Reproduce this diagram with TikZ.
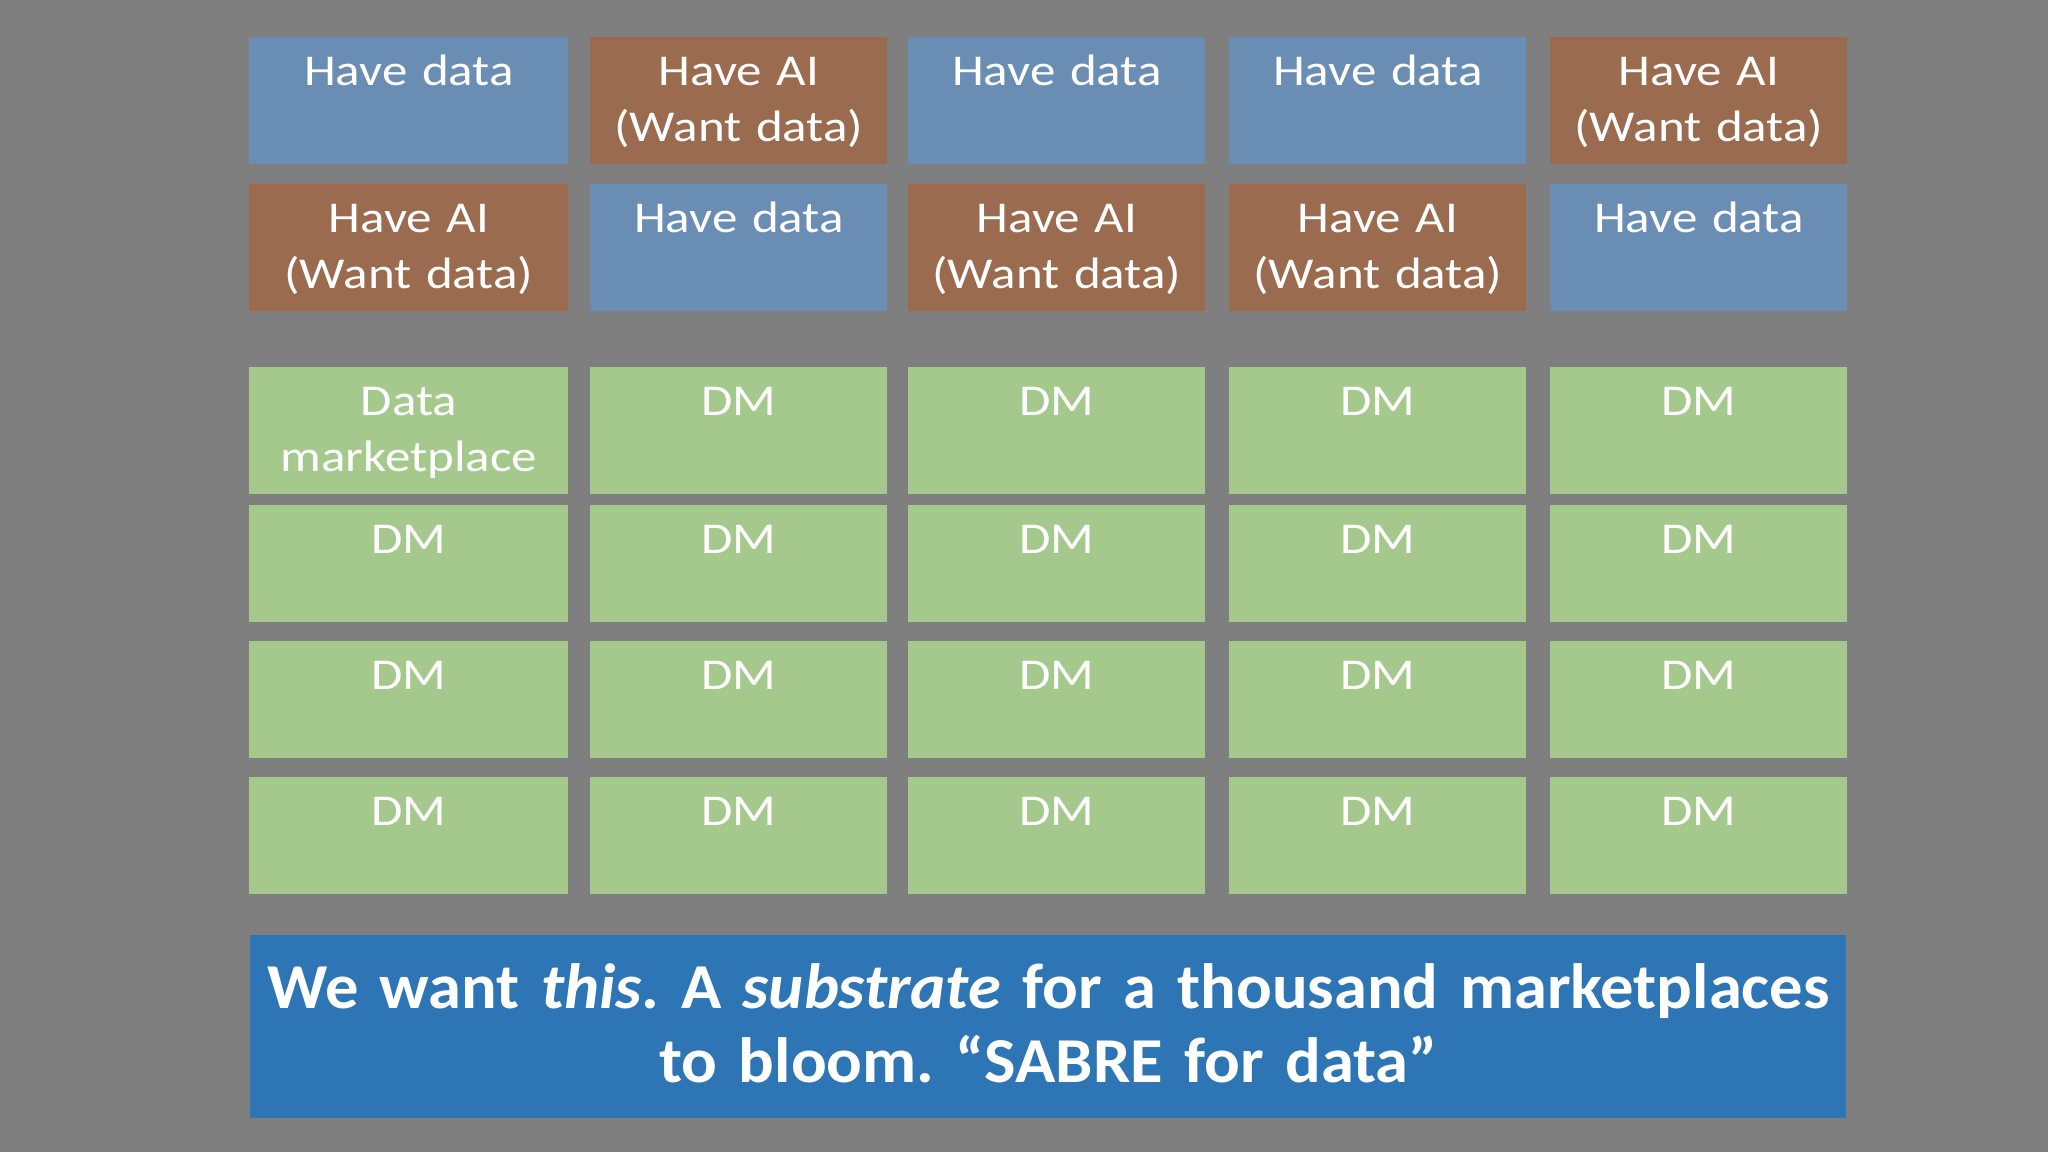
\documentclass[tikz,border=0pt]{standalone}
\usepackage{fontspec}
\setmainfont{Carlito}
\newfontfamily\cellfont[FakeStretch=1.16]{Carlito}
\newfontfamily\bannerfont[FakeStretch=1.04]{Carlito}
\usepackage{xcolor}
\usepackage{tikz}
\definecolor{slidegray}{HTML}{7F7F7F}
\definecolor{datablue}{HTML}{6A8DB4}
\definecolor{aibrown}{HTML}{9B6B50}
\definecolor{dmgreen}{HTML}{A5C98C}
\definecolor{bannerblue}{HTML}{2E75B6}
\tikzset{ cell/.style = {rectangle, inner sep=0pt, anchor=north west, align=center, text=white, font=\cellfont\fontsize{22}{28}\selectfont, text width=148.5pt, text height=23.8pt, text depth=39.7pt} }
\tikzset{ have_data/.style = {cell, fill=datablue} }
\tikzset{ have_ai/.style = {cell, fill=aibrown} }
\tikzset{ dm/.style = {cell, fill=dmgreen, text height=23.9pt, text depth=34.6pt} }
\tikzset{ wide/.style = {text width=159.5pt} }
\tikzset{ banner/.style = {rectangle, inner sep=0pt, anchor=north west, align=center, text=white, fill=bannerblue, text width=798pt, text height=36.5pt, text depth=55pt, font=\bannerfont\fontsize{32}{37}\selectfont\bfseries\frenchspacing} }

\begin{document}
\begin{tikzpicture}[x=0.5pt, y=-0.5pt]
    \fill[slidegray] (0,0) rectangle (2048,1152);
    \useasboundingbox (0,0) rectangle (2048,1152);
    % who has what
    \node[have_data, wide] (H11) at (249, 37) {Have data};
    \node[have_ai] (H12) at (590, 37) {Have AI\\(Want data)};
    \node[have_data] (H13) at (908, 37) {Have data};
    \node[have_data] (H14) at (1229, 37) {Have data};
    \node[have_ai] (H15) at (1550, 37) {Have AI\\(Want data)};
    \node[have_ai, wide] (H21) at (249, 184) {Have AI\\(Want data)};
    \node[have_data] (H22) at (590, 184) {Have data};
    \node[have_ai] (H23) at (908, 184) {Have AI\\(Want data)};
    \node[have_ai] (H24) at (1229, 184) {Have AI\\(Want data)};
    \node[have_data] (H25) at (1550, 184) {Have data};
    % marketplaces
    \node[dm, wide, text depth=39.6pt] (M11) at (249, 367) {Data\\marketplace};
    \node[dm, text depth=39.6pt] (M12) at (590, 367) {DM};
    \node[dm, text depth=39.6pt] (M13) at (908, 367) {DM};
    \node[dm, text depth=39.6pt] (M14) at (1229, 367) {DM};
    \node[dm, text depth=39.6pt] (M15) at (1550, 367) {DM};
    \node[dm, wide] (M21) at (249, 505) {DM};
    \node[dm] (M22) at (590, 505) {DM};
    \node[dm] (M23) at (908, 505) {DM};
    \node[dm] (M24) at (1229, 505) {DM};
    \node[dm] (M25) at (1550, 505) {DM};
    \node[dm, wide] (M31) at (249, 641) {DM};
    \node[dm] (M32) at (590, 641) {DM};
    \node[dm] (M33) at (908, 641) {DM};
    \node[dm] (M34) at (1229, 641) {DM};
    \node[dm] (M35) at (1550, 641) {DM};
    \node[dm, wide] (M41) at (249, 777) {DM};
    \node[dm] (M42) at (590, 777) {DM};
    \node[dm] (M43) at (908, 777) {DM};
    \node[dm] (M44) at (1229, 777) {DM};
    \node[dm] (M45) at (1550, 777) {DM};
    \node[banner] (B) at (250, 935) {We want \textit{this}. A \textit{substrate} for a thousand marketplaces\\to bloom. “SABRE for data”};
\end{tikzpicture}
\end{document}
